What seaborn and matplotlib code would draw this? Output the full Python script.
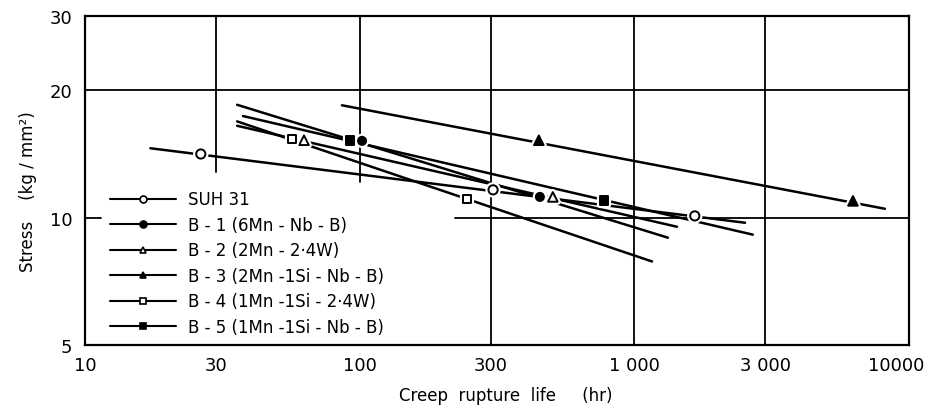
import numpy as np
import pandas as pd
import matplotlib
matplotlib.use("Agg")
import matplotlib.pyplot as plt
import matplotlib.patheffects as pe
import matplotlib.transforms as mtransforms
from matplotlib.lines import Line2D
from matplotlib.ticker import FixedLocator, FixedFormatter, NullLocator
import seaborn as sns

# ---------------- data ----------------
series = ["SUH 31",
          "B - 1 (6Mn - Nb - B)",
          "B - 2 (2Mn - 2·4W)",
          "B - 3 (2Mn -1Si - Nb - B)",
          "B - 4 (1Mn -1Si - 2·4W)",
          "B - 5 (1Mn -1Si - Nb - B)"]

# fitted straight lines: start / end (creep rupture life hr, stress kg/mm2)
line_x_start = [17.3, 35.8, 35.8, 86.2, 35.8, 37.6]
line_y_start = [14.6, 18.5, 16.5, 18.45, 16.9, 17.4]
line_x_end = [2530, 1325, 1430, 8170, 1160, 2700]
line_y_end = [9.73, 8.97, 9.52, 10.5, 7.88, 9.12]

# measured points
suh_x = [26.4, 306, 1660]
suh_y = [14.15, 11.64, 10.1]
b1_x = [102, 453]
b1_y = [15.2, 11.2]
b2_x = [62.7, 505]
b2_y = [15.25, 11.2]
b3_x = [449, 6250]
b3_y = [15.25, 10.96]
b4_x = [56.7, 246]
b4_y = [15.35, 11.08]
b5_x = [92.2, 775]
b5_y = [15.25, 11.0]

x_ticks = [10, 30, 100, 300, 1000, 3000, 10000]
x_tick_labels = ["10", "30", "100", "300", "1 000", "3 000", "10000"]
y_ticks = [5, 10, 20, 30]
y_tick_labels = ["5", "10", "20", "30"]

# ---------------- styling ----------------
sns.set_theme(style="white")
plt.rcParams["font.family"] = ["DejaVu Sans"]
plt.rcParams["text.color"] = "black"
plt.rcParams["axes.labelcolor"] = "black"

marker_style = [("o", "white"), ("o", "black"), ("^", "white"),
                ("^", "black"), ("s", "white"), ("s", "black")]
marker_size = [44, 34, 48, 48, 40, 40]

fig = plt.figure(figsize=(9.35, 4.1), dpi=100)
ax = fig.add_axes([0.0909, 0.1561, 0.8813, 0.8024])
ax.set_xscale("log")
ax.set_yscale("log")
ax.set_xlim(10, 10000)
ax.set_ylim(5, 30)

# partial grid lines (as in the original, interrupted by the legend area)
gkw = dict(color="black", lw=1.3, zorder=1)
ax.axhline(20, **gkw)
ax.axhline(10, xmin=0.449, xmax=1, **gkw)
ax.axhline(10, xmin=0, xmax=0.02, **gkw)
ax.axvline(30, ymin=0.526, ymax=1, **gkw)
ax.axvline(100, ymin=0.495, ymax=1, **gkw)
ax.axvline(300, **gkw)
ax.axvline(1000, **gkw)
ax.axvline(3000, **gkw)

# lines
lines_df = pd.DataFrame({
    "series": series + series,
    "life": line_x_start + line_x_end,
    "stress": line_y_start + line_y_end,
})
sns.lineplot(data=lines_df, x="life", y="stress", units="series",
             estimator=None, color="black", lw=1.8, ax=ax, zorder=3,
             legend=False)

# markers
pts = [(suh_x, suh_y), (b1_x, b1_y), (b2_x, b2_y),
       (b3_x, b3_y), (b4_x, b4_y), (b5_x, b5_y)]
halo = [pe.withStroke(linewidth=4.5, foreground="white")]
for (px, py), (m, fc), s in zip(pts, marker_style, marker_size):
    sns.scatterplot(x=px, y=py, marker=m, s=s, facecolor=fc,
                    edgecolor="black", linewidth=1.4, ax=ax, zorder=5,
                    path_effects=halo, legend=False)

# axes, ticks
for sp in ax.spines.values():
    sp.set_visible(True)
    sp.set_color("black")
    sp.set_linewidth(1.6)
ax.xaxis.set_major_locator(FixedLocator(x_ticks))
ax.xaxis.set_major_formatter(FixedFormatter(x_tick_labels))
ax.yaxis.set_major_locator(FixedLocator(y_ticks))
ax.yaxis.set_major_formatter(FixedFormatter(y_tick_labels))
ax.xaxis.set_minor_locator(NullLocator())
ax.yaxis.set_minor_locator(NullLocator())
ax.tick_params(axis="x", direction="in", length=7, width=1.3,
               labelsize=13, pad=8, colors="black")
ax.tick_params(axis="y", direction="in", length=0, width=1.3,
               labelsize=13, pad=9, colors="black")

ax.set_xlabel("Creep  rupture  life     (hr)", fontsize=12, color="black")
ax.xaxis.set_label_coords(0.511, -0.125)
ax.set_ylabel("Stress    (kg / mm²)", fontsize=12, color="black")
ax.yaxis.set_label_coords(-0.058, 0.47)

# legend
handles = [Line2D([], [], color="black", lw=1.5, marker=m, markersize=5,
                  markerfacecolor=fc, markeredgecolor="black",
                  markeredgewidth=1.2)
           for (m, fc) in marker_style]
leg = ax.legend(handles, series, loc="upper left",
                bbox_to_anchor=(0.03, 0.47),
                frameon=False, fontsize=12, handlelength=4.0,
                handletextpad=0.7, labelspacing=0.45, borderpad=0,
                borderaxespad=0, numpoints=1)
for t in leg.get_texts():
    t.set_color("black")

# keep the last x tick label inside the figure (as in the original)
fig.canvas.draw()
last = ax.xaxis.get_major_ticks()[-1].label1
last.set_transform(last.get_transform() +
                   mtransforms.ScaledTranslation(-0.13, 0, fig.dpi_scale_trans))

fig.savefig("out.png", dpi=100, facecolor="white")
